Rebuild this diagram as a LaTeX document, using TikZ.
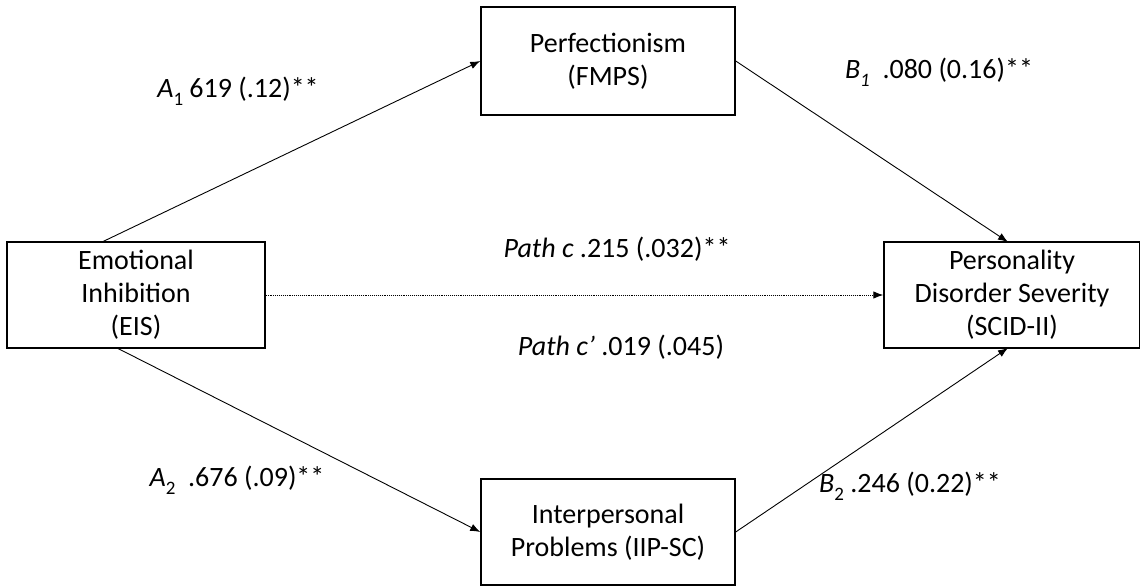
\documentclass[tikz,border=0pt]{standalone}
\usepackage{fontspec}
\setmainfont{Carlito}
\usetikzlibrary{arrows.meta}
\newcommand{\mysub}[1]{\raisebox{-0.3em}{\fontsize{19}{19}\selectfont #1}}
\tikzset{
  box/.style={draw, line width=1.4pt, inner sep=0pt, align=center, font=\fontsize{28}{33}\selectfont},
  lbl/.style={inner sep=0pt, font=\fontsize{28}{32}\selectfont},
  arr/.style={line width=0.9pt, -{Latex[length=10pt,width=7.5pt]}},
}
\begin{document}
\begin{tikzpicture}[x=1pt,y=-1pt]
\useasboundingbox (0,0) rectangle (1140,586);
\node[box, minimum width=258pt, minimum height=106pt] (eis) at (136,295) {Emotional\\Inhibition\\(EIS)};
\node[box, minimum width=254pt, minimum height=108pt] (perf) at (608,61) {Perfectionism\\(FMPS)};
\node[box, minimum width=254pt, minimum height=106pt] (ipp) at (608,532) {Interpersonal\\Problems (IIP-SC)};
\node[box, minimum width=256pt, minimum height=106pt] (scid) at (1012,295) {Personality\\Disorder Severity\\(SCID-II)};
\coordinate (s1) at (102,242);
\coordinate (s2) at (117,348);
\coordinate (t1) at (1008,242);
\coordinate (t2) at (1008,348);
\draw[arr] (s1) -- (perf.west);
\draw[arr] (perf.east) -- (t1);
\draw[arr] (s2) -- (ipp.west);
\draw[arr] (ipp.east) -- (t2);
\draw[line width=0.9pt, densely dotted, -{Latex[length=10pt,width=7.5pt]}] (eis.east) -- (scid.west);
\node[lbl] (la1) at (238,91) {\textit{A}\mysub{1} 619 (.12)**};
\node[lbl] (lb1) at (939,72) {\textit{B\mysub{1}}\ \ .080 (0.16)**};
\node[lbl] (lc) at (617,249) {\textit{Path c} .215 (.032)**};
\node[lbl] (lcp) at (621,347) {\textit{Path c’} .019 (.045)};
\node[lbl] (la2) at (237,480) {\textit{A}\mysub{2}\ \ .676 (.09)**};
\node[lbl] (lb2) at (910,486) {\textit{B}\mysub{2} .246 (0.22)**};
\end{tikzpicture}
\end{document}
